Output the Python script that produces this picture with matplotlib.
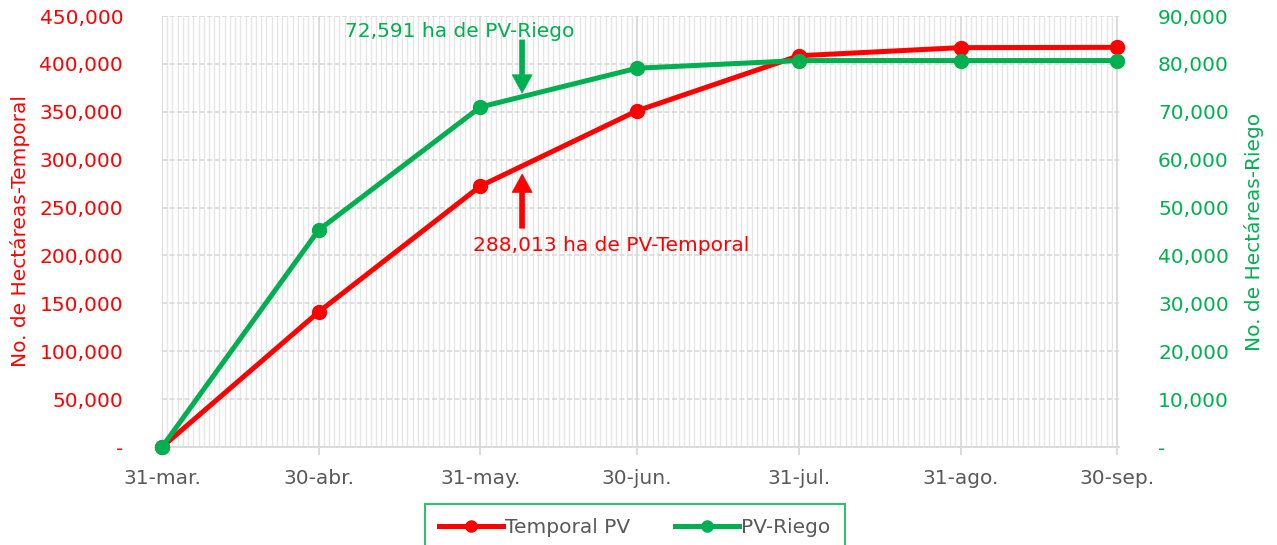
import matplotlib.pyplot as plt
import matplotlib.dates as mdates
import numpy as np
import datetime as dt

fechas = ['2023-03-31', '2023-04-30', '2023-05-31', '2023-06-30',
          '2023-07-31', '2023-08-31', '2023-09-30']
etiquetas = ['31-mar.', '30-abr.', '31-may.', '30-jun.', '31-jul.', '31-ago.', '30-sep.']
temporal = [0, 141000, 272500, 351000, 408500, 417000, 417300]
riego = [0, 45300, 71000, 79100, 80700, 80700, 80700]

rojo = '#FF0000'
verde = '#00B050'
gris = '#595959'

plt.rcParams['font.family'] = ['DejaVu Sans']

x = [dt.datetime.strptime(f, '%Y-%m-%d') for f in fechas]

fig = plt.figure(figsize=(12.77, 5.45), dpi=100)
ax = fig.add_axes([0.1269, 0.1798, 0.7495, 0.7908])
ax2 = ax.twinx()

ax.set_xlim(x[0], x[-1] + dt.timedelta(days=0.4))
ax.set_ylim(0, 450000)
ax2.set_ylim(0, 90000)

# grid
ax.set_xticks(x)
ax.set_xticklabels(etiquetas)
ax.xaxis.set_minor_locator(mdates.DayLocator())
ax.grid(True, axis='x', which='major', color='#D9D9D9', lw=1.3)
ax.grid(True, axis='x', which='minor', color='#E6E6E6', lw=1.0)
ax.set_yticks(np.arange(0, 450001, 50000))
ax.grid(True, axis='y', which='major', color='#D9D9D9', lw=1.2, ls=(0, (3, 1.5)))
ax.set_axisbelow(True)

fmt = lambda v, p: '-' if v == 0 else f'{v:,.0f}'
ax.yaxis.set_major_formatter(plt.FuncFormatter(fmt))
ax2.yaxis.set_major_formatter(plt.FuncFormatter(fmt))
ax2.set_yticks(np.arange(0, 90001, 10000))

for a in (ax, ax2):
    for s in a.spines.values():
        s.set_visible(False)
ax.spines['bottom'].set_visible(True)
ax.spines['bottom'].set_color('#D9D9D9')
ax.spines['bottom'].set_linewidth(1.3)

fs = 14.5
ax.tick_params(axis='y', colors=rojo, labelsize=fs, length=0, pad=28)
ax2.tick_params(axis='y', colors=verde, labelsize=fs, length=0, pad=28)
ax.tick_params(axis='x', which='major', colors='#D9D9D9', labelcolor=gris,
               labelsize=fs, length=6, width=1.3, pad=10)
ax.tick_params(axis='x', which='minor', length=0)

ax.set_ylabel('No. de Hectáreas-Temporal', color=rojo, fontsize=fs, labelpad=7)
ax2.set_ylabel('No. de Hectáreas-Riego', color=verde, fontsize=fs, labelpad=11)

l1, = ax.plot(x, temporal, color=rojo, lw=3.6, marker='o', ms=10, label='Temporal PV',
              clip_on=False, zorder=5)
l2, = ax2.plot(x, riego, color=verde, lw=3.6, marker='o', ms=10, label='PV-Riego',
               clip_on=False, zorder=5)

# anotaciones
xa = dt.datetime(2023, 6, 8)
flecha = 'simple,head_width=1.2,head_length=1.1,tail_width=0.3'
ax2.text(dt.datetime(2023, 5, 27), 86700, '72,591 ha de PV-Riego', color=verde,
         fontsize=fs, ha='center', va='center')
ax2.annotate('', xy=(xa, 73900), xytext=(xa, 85000),
             arrowprops=dict(arrowstyle=flecha, color=verde, lw=0.5, shrinkA=0, shrinkB=0,
                             mutation_scale=12))
ax.text(dt.datetime(2023, 6, 25), 210500, '288,013 ha de PV-Temporal', color=rojo,
        fontsize=fs, ha='center', va='center')
ax.annotate('', xy=(xa, 285000), xytext=(xa, 228500),
            arrowprops=dict(arrowstyle=flecha, color=rojo, lw=0.5, shrinkA=0, shrinkB=0,
                            mutation_scale=12))

leg = fig.legend(handles=[l1, l2], loc='lower center', bbox_to_anchor=(0.497, -0.03),
                 ncol=2, frameon=True, fancybox=False, fontsize=fs, handlelength=3.2,
                 handletextpad=0.1, columnspacing=2.2, borderpad=0.7, labelcolor=gris,
                 markerscale=0.8, borderaxespad=0.5)
leg.get_frame().set_edgecolor(verde)
leg.get_frame().set_linewidth(1.5)

fig.savefig('out.png', dpi=100)
